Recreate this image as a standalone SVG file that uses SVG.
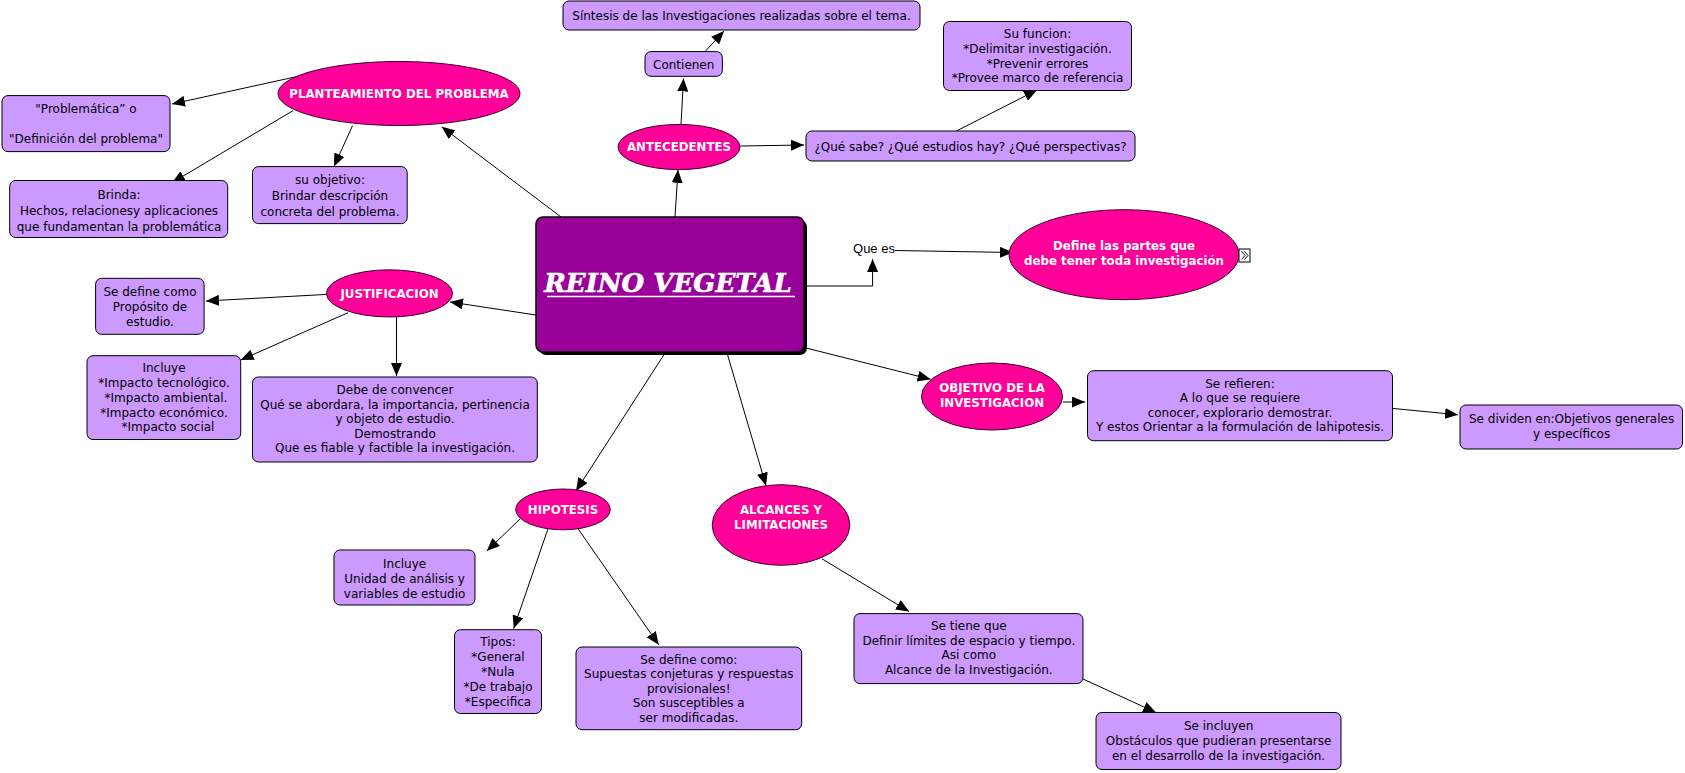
<svg xmlns="http://www.w3.org/2000/svg" width="1685" height="773" viewBox="0 0 1685 773">
<defs>
<marker id="arr" markerUnits="userSpaceOnUse" markerWidth="14" markerHeight="11" refX="13" refY="5.5" orient="auto">
<path d="M0,0 L13,5.5 L0,11 z" fill="#000"/>
</marker>
<style>
.box{fill:#cc99ff;stroke:#000;stroke-width:1}
.ell{fill:#ff0099;stroke:#3a0030;stroke-width:1}
.t{font-family:"DejaVu Sans",Verdana,sans-serif;font-size:12px;fill:#000;text-anchor:middle}
.b{font-family:"DejaVu Sans",Verdana,sans-serif;font-size:11.8px;font-weight:bold;fill:#fff;text-anchor:middle}
.c line,.c path{stroke:#000;stroke-width:1;fill:none;marker-end:url(#arr)}
</style>
</defs>
<rect width="1685" height="773" fill="#fff"/>

<g class="c" id="connectors">
<line x1="561" y1="217" x2="441.7" y2="126.8"/>
<line x1="304" y1="75" x2="172" y2="104"/>
<line x1="293" y1="110.7" x2="172" y2="182.7"/>
<line x1="352.5" y1="125.7" x2="334" y2="166.6"/>
<line x1="675" y1="217" x2="678" y2="169.8"/>
<line x1="681" y1="124.7" x2="683.5" y2="78.4"/>
<line x1="705" y1="51.6" x2="724" y2="31"/>
<line x1="740.4" y1="146" x2="804" y2="145"/>
<line x1="956.4" y1="131" x2="1037" y2="90"/>
<line x1="536" y1="315" x2="450" y2="302"/>
<line x1="326.7" y1="294.4" x2="206" y2="301"/>
<line x1="348" y1="312.7" x2="240.7" y2="360"/>
<line x1="396.5" y1="317" x2="396.5" y2="376"/>
<line x1="664" y1="354.6" x2="576" y2="491"/>
<line x1="520" y1="519" x2="486.8" y2="551"/>
<line x1="548" y1="528.7" x2="513.7" y2="628.6"/>
<line x1="578" y1="528.7" x2="658.7" y2="644.8"/>
<line x1="727.5" y1="354.6" x2="766" y2="485.7"/>
<line x1="822" y1="558.8" x2="909" y2="611.5"/>
<line x1="1083" y1="679" x2="1156" y2="712.5"/>
<line x1="806" y1="348" x2="930.6" y2="379.3"/>
<line x1="1063" y1="402" x2="1085" y2="402"/>
<line x1="1392.6" y1="408.4" x2="1458" y2="414.8"/>
<path d="M804,286 L872.6,286 L872.6,259"/>
<line x1="895" y1="250.5" x2="1013" y2="252.5"/>
</g>

<g id="center">
<rect x="539" y="220" width="268" height="135" rx="7" fill="#000"/>
<rect x="536" y="217" width="268" height="135" rx="7" fill="#990099" stroke="#000" stroke-width="1.5"/>
<text x="668" y="292" font-family="'DejaVu Serif',serif" font-size="26" font-weight="bold" font-style="italic" fill="#fff" stroke="#fff" stroke-width="0.6" text-anchor="middle">REINO VEGETAL</text>
<line x1="547" y1="296.5" x2="795" y2="296.5" stroke="#fff" stroke-width="1.5"/>
</g>

<g id="planteamiento">
<ellipse class="ell" cx="399" cy="93.5" rx="121" ry="32"/>
<text class="b" x="399" y="97.5">PLANTEAMIENTO DEL PROBLEMA</text>
</g>
<g id="problematica">
<rect class="box" x="2" y="95.6" width="168" height="56" rx="6"/>
<text class="t" x="86" y="113">"Problemática” o</text>
<text class="t" x="86" y="143">"Definición del problema"</text>
</g>
<g id="brinda">
<rect class="box" x="9.7" y="180.5" width="218" height="57" rx="6"/>
<text class="t" x="119" y="199">Brinda:</text>
<text class="t" x="119" y="215">Hechos, relacionesy aplicaciones</text>
<text class="t" x="119" y="231">que fundamentan la problemática</text>
</g>
<g id="suobjetivo">
<rect class="box" x="252.5" y="166.6" width="154.7" height="57" rx="6"/>
<text class="t" x="330" y="184">su objetivo:</text>
<text class="t" x="330" y="200">Brindar descripción</text>
<text class="t" x="330" y="216">concreta del problema.</text>
</g>

<g id="sintesis">
<rect class="box" x="563" y="1" width="357" height="29" rx="6"/>
<text class="t" x="741.5" y="19.5">Síntesis de las Investigaciones realizadas sobre el tema.</text>
</g>
<g id="contienen">
<rect class="box" x="645" y="51.6" width="77.4" height="24.7" rx="6"/>
<text class="t" x="683.7" y="68.5">Contienen</text>
</g>
<g id="antecedentes">
<ellipse class="ell" cx="679" cy="147" rx="61" ry="22.6"/>
<text class="b" x="679" y="151">ANTECEDENTES</text>
</g>
<g id="quesabe">
<rect class="box" x="806" y="131" width="329" height="30" rx="6"/>
<text class="t" x="970.5" y="150.5">¿Qué sabe? ¿Qué estudios hay? ¿Qué perspectivas?</text>
</g>
<g id="sufuncion">
<rect class="box" x="943.5" y="21.5" width="188" height="69" rx="6"/>
<text class="t" x="1037.5" y="38">Su funcion:</text>
<text class="t" x="1037.5" y="53">*Delimitar investigación.</text>
<text class="t" x="1037.5" y="67.5">*Prevenir errores</text>
<text class="t" x="1037.5" y="82">*Provee marco de referencia</text>
</g>

<g id="quees">
<text x="874" y="253" font-family="'Liberation Sans',Arial,sans-serif" font-size="13" text-anchor="middle" fill="#000">Que es</text>
</g>
<g id="define">
<ellipse class="ell" cx="1124" cy="254.7" rx="115" ry="45"/>
<text class="b" x="1124" y="250">Define las partes que</text>
<text class="b" x="1124" y="265">debe tener toda investigación</text>
<rect x="1239" y="249" width="11" height="13" fill="#fff" stroke="#000" stroke-width="1"/>
<path d="M1241.5,251.5 L1245,255.5 L1241.5,259.5 M1244.5,251.5 L1248,255.5 L1244.5,259.5" fill="none" stroke="#000" stroke-width="1"/>
</g>

<g id="justificacion">
<ellipse class="ell" cx="389.5" cy="293.4" rx="63" ry="23.6"/>
<text class="b" x="389.5" y="297.5">JUSTIFICACION</text>
</g>
<g id="sedefine1">
<rect class="box" x="95.6" y="278.3" width="108.5" height="56" rx="6"/>
<text class="t" x="150" y="295.5">Se define como</text>
<text class="t" x="150" y="310.5">Propósito de</text>
<text class="t" x="150" y="325.5">estudio.</text>
</g>
<g id="incluye1">
<rect class="box" x="87" y="355.7" width="153.7" height="83.8" rx="6"/>
<text class="t" x="164" y="372">Incluye</text>
<text class="t" x="164" y="387">*Impacto tecnológico.</text>
<text class="t" x="166" y="402">*Impacto ambiental.</text>
<text class="t" x="164" y="416.5">*Impacto económico.</text>
<text class="t" x="168" y="431">*Impacto social</text>
</g>
<g id="debe">
<rect class="box" x="252.5" y="377" width="284.8" height="85" rx="6"/>
<text class="t" x="395" y="393.5">Debe de convencer</text>
<text class="t" x="395" y="408.5">Qué se abordara, la importancia, pertinencia</text>
<text class="t" x="395" y="423">y objeto de estudio.</text>
<text class="t" x="395" y="437.5">Demostrando</text>
<text class="t" x="395" y="452">Que es fiable y factible la investigación.</text>
</g>

<g id="hipotesis">
<ellipse class="ell" cx="563" cy="509.4" rx="47.3" ry="20.4"/>
<text class="b" x="563" y="513.5">HIPOTESIS</text>
</g>
<g id="incluye2">
<rect class="box" x="334" y="550" width="141" height="55" rx="6"/>
<text class="t" x="404.6" y="567.5">Incluye</text>
<text class="t" x="404.6" y="582.5">Unidad de análisis y</text>
<text class="t" x="404.6" y="597.5">variables de estudio</text>
</g>
<g id="tipos">
<rect class="box" x="454.5" y="629.7" width="87" height="83.8" rx="6"/>
<text class="t" x="498" y="646">Tipos:</text>
<text class="t" x="498" y="661">*General</text>
<text class="t" x="498" y="676">*Nula</text>
<text class="t" x="498" y="691">*De trabajo</text>
<text class="t" x="498" y="706">*Especifica</text>
</g>
<g id="sedefine2">
<rect class="box" x="576" y="647" width="225.7" height="82.7" rx="6"/>
<text class="t" x="688.8" y="663.5">Se define como:</text>
<text class="t" x="688.8" y="678">Supuestas conjeturas y respuestas</text>
<text class="t" x="688.8" y="692.5">provisionales!</text>
<text class="t" x="688.8" y="707">Son susceptibles a</text>
<text class="t" x="688.8" y="721.5">ser modificadas.</text>
</g>

<g id="alcances">
<ellipse class="ell" cx="781" cy="525" rx="68.8" ry="40.3"/>
<text class="b" x="781" y="513.5">ALCANCES Y</text>
<text class="b" x="781" y="529">LIMITACIONES</text>
</g>
<g id="setiene">
<rect class="box" x="854" y="613.6" width="229" height="70" rx="6"/>
<text class="t" x="968.8" y="630">Se tiene que</text>
<text class="t" x="968.8" y="644.5">Definir límites de espacio y tiempo.</text>
<text class="t" x="968.8" y="659">Asi como</text>
<text class="t" x="968.8" y="673.5">Alcance de la Investigación.</text>
</g>
<g id="seincluyen">
<rect class="box" x="1096" y="712.5" width="245" height="57" rx="6"/>
<text class="t" x="1218.6" y="730">Se incluyen</text>
<text class="t" x="1218.6" y="745">Obstáculos que pudieran presentarse</text>
<text class="t" x="1218.6" y="760">en el desarrollo de la investigación.</text>
</g>

<g id="objetivo">
<ellipse class="ell" cx="992" cy="396.5" rx="70.5" ry="33.5"/>
<text class="b" x="992" y="392">OBJETIVO DE LA</text>
<text class="b" x="992" y="407">INVESTIGACION</text>
</g>
<g id="serefieren">
<rect class="box" x="1087.5" y="370.7" width="305" height="70" rx="6"/>
<text class="t" x="1240" y="387.5">Se refieren:</text>
<text class="t" x="1240" y="402">A lo que se requiere</text>
<text class="t" x="1240" y="416.5">conocer, explorario demostrar.</text>
<text class="t" x="1240" y="431">Y estos Orientar a la formulación de lahipotesis.</text>
</g>
<g id="sedividen">
<rect class="box" x="1460" y="405" width="222.5" height="44" rx="6"/>
<text class="t" x="1571.6" y="422.5">Se dividen en:Objetivos generales</text>
<text class="t" x="1571.6" y="438">y específicos</text>
</g>
</svg>
